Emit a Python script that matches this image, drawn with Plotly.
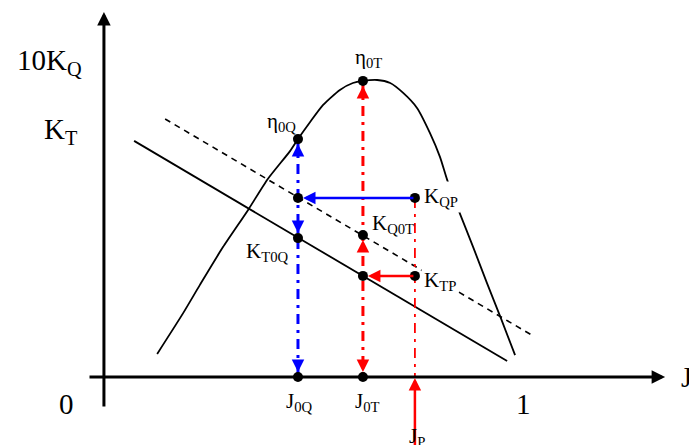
import plotly.graph_objects as go

# Propeller open-water characteristics against advance coefficient J
eta_J = [0.127, 0.189, 0.229, 0.284, 0.344, 0.391, 0.444, 0.463, 0.492, 0.523,
         0.563, 0.594, 0.618, 0.652, 0.683, 0.714, 0.747, 0.778, 0.802, 0.819,
         0.847, 0.881, 0.914, 0.948, 0.981]
eta_val = [0.077, 0.213, 0.307, 0.433, 0.557, 0.660, 0.753, 0.793, 0.850, 0.907,
           0.957, 0.980, 0.987, 0.990, 0.980, 0.947, 0.897, 0.813, 0.733, 0.657,
           0.553, 0.433, 0.313, 0.193, 0.073]

kt_J = [0.072, 0.962]
kt_val = [0.787, 0.053]

kq_J = [0.146, 1.024]
kq_val = [0.860, 0.137]

# Operating points
J0Q, J0T, JP = 0.463, 0.618, 0.742
ETA0Q, ETA0T = 0.793, 0.987
KQP, KQ0T = 0.597, 0.473
KT0Q, KTP = 0.463, 0.337

# Drawing extents
X_RANGE = [-0.248, 1.396]
Y_RANGE = [-0.2267, 1.2567]
AXIS_X = [-0.038, 1.339]
AXIS_Y = [-0.103, 1.217]
JP_TAIL = -0.26

BLUE = "#0000ff"
RED = "#ff0000"
DASHDOT = "10px,6px,3px,6px"
SERIF = "Liberation Serif, Times New Roman, serif"
PT_SIZE = 21

fig = go.Figure()

# curves
fig.add_trace(go.Scatter(x=eta_J, y=eta_val, mode="lines",
                         line=dict(color="black", width=1.8, shape="spline", smoothing=0.6)))
fig.add_trace(go.Scatter(x=kt_J, y=kt_val, mode="lines",
                         line=dict(color="black", width=1.8)))
fig.add_trace(go.Scatter(x=kq_J, y=kq_val, mode="lines",
                         line=dict(color="black", width=1.6, dash="6px,5px")))

# dash-dot verticals
fig.add_trace(go.Scatter(x=[J0Q, J0Q], y=[ETA0Q, 0], mode="lines",
                         line=dict(color=BLUE, width=3, dash=DASHDOT)))
fig.add_trace(go.Scatter(x=[J0T, J0T], y=[ETA0T, 0], mode="lines",
                         line=dict(color=RED, width=3, dash=DASHDOT)))
fig.add_trace(go.Scatter(x=[JP, JP], y=[KQP, 0], mode="lines",
                         line=dict(color=RED, width=1.8, dash=DASHDOT)))

annotations = []

def arrow(x, y, ax, ay, color, width=2.5, size=1.0, standoff=0, data_tail=True):
    d = dict(x=x, y=y, ax=ax, ay=ay, text="", showarrow=True, arrowhead=2,
             arrowsize=size, arrowwidth=width, arrowcolor=color, standoff=standoff,
             xref="x", yref="y")
    if data_tail:
        d.update(axref="x", ayref="y")
    annotations.append(d)

# coordinate axes
arrow(AXIS_X[1], 0, AXIS_X[0], 0, "black", width=3, size=0.9)
arrow(0, AXIS_Y[1], 0, AXIS_Y[0], "black", width=3, size=0.9)

# solid horizontal transfers
arrow(J0Q, KQP, JP, KQP, BLUE, standoff=5)
arrow(J0T, KTP, JP, KTP, RED, standoff=5)

# J_P input arrow
arrow(JP, 0, JP, JP_TAIL, RED, standoff=1)

# arrowheads on the dash-dot verticals
arrow(J0Q, ETA0Q, 0, 16, BLUE, standoff=5, data_tail=False)
arrow(J0Q, KT0Q, 0, -16, BLUE, standoff=5, data_tail=False)
arrow(J0Q, 0, 0, -16, BLUE, standoff=5, data_tail=False)
arrow(J0T, ETA0T, 0, 16, RED, standoff=5, data_tail=False)
arrow(J0T, KQ0T, 0, 16, RED, standoff=5, data_tail=False)
arrow(J0T, 0, 0, -16, RED, standoff=5, data_tail=False)

# points
pts_x = [J0T, J0Q, JP, J0Q, J0T, J0Q, J0T, JP, J0Q, J0T]
pts_y = [ETA0T, ETA0Q, KQP, KQP, KQ0T, KT0Q, KTP, KTP, 0, 0]
fig.add_trace(go.Scatter(x=pts_x, y=pts_y, mode="markers",
                         marker=dict(color="black", size=10)))

def label(text, x, y, xshift=0, yshift=0, size=PT_SIZE, xanchor="center", yanchor="middle", bg=None):
    d = dict(x=x, y=y, text=text, showarrow=False, xshift=xshift, yshift=yshift,
             xanchor=xanchor, yanchor=yanchor, xref="x", yref="y",
             font=dict(family=SERIF, size=size, color="black"))
    if bg:
        d.update(bgcolor=bg, borderpad=2)
    annotations.append(d)

label("η<sub>0T</sub>", J0T, ETA0T, xshift=6, yshift=23)
label("η<sub>0Q</sub>", J0Q, ETA0Q, xshift=-16, yshift=17)
label("K<sub>QP</sub>", JP, KQP, xshift=6, yshift=1, xanchor="left", bg="white")
label("K<sub>Q0T</sub>", J0T, KQ0T, xshift=7, yshift=11, xanchor="left")
label("K<sub>T0Q</sub>", J0Q, KT0Q, xshift=-8, yshift=-14, xanchor="right")
label("K<sub>TP</sub>", JP, KTP, xshift=6, yshift=-5, xanchor="left", bg="white")
label("J<sub>0Q</sub>", J0Q, 0, xshift=2, yshift=-25)
label("J<sub>0T</sub>", J0T, 0, xshift=5, yshift=-25)
label("J<sub>P</sub>", JP, 0, xshift=2, yshift=-45, yanchor="top")

# axis labels
label("10K<sub>Q</sub>", 0, AXIS_Y[1], xshift=-20, yshift=-50, size=29, xanchor="right")
label("K<sub>T</sub>", 0, AXIS_Y[1], xshift=-24, yshift=-119, size=29, xanchor="right")
label("0", 0, 0, xshift=-37, yshift=-27, size=29)
label("1", 1, 0, xshift=0, yshift=-27, size=29)
label("J", AXIS_X[1], 0, xshift=14, yshift=0, size=29, xanchor="left")

fig.update_layout(
    width=689, height=445,
    margin=dict(l=0, r=0, t=0, b=0),
    paper_bgcolor="white", plot_bgcolor="white",
    showlegend=False,
    xaxis=dict(range=X_RANGE, visible=False, fixedrange=True),
    yaxis=dict(range=Y_RANGE, visible=False, fixedrange=True),
    annotations=annotations,
)

fig.write_html("out.html")
